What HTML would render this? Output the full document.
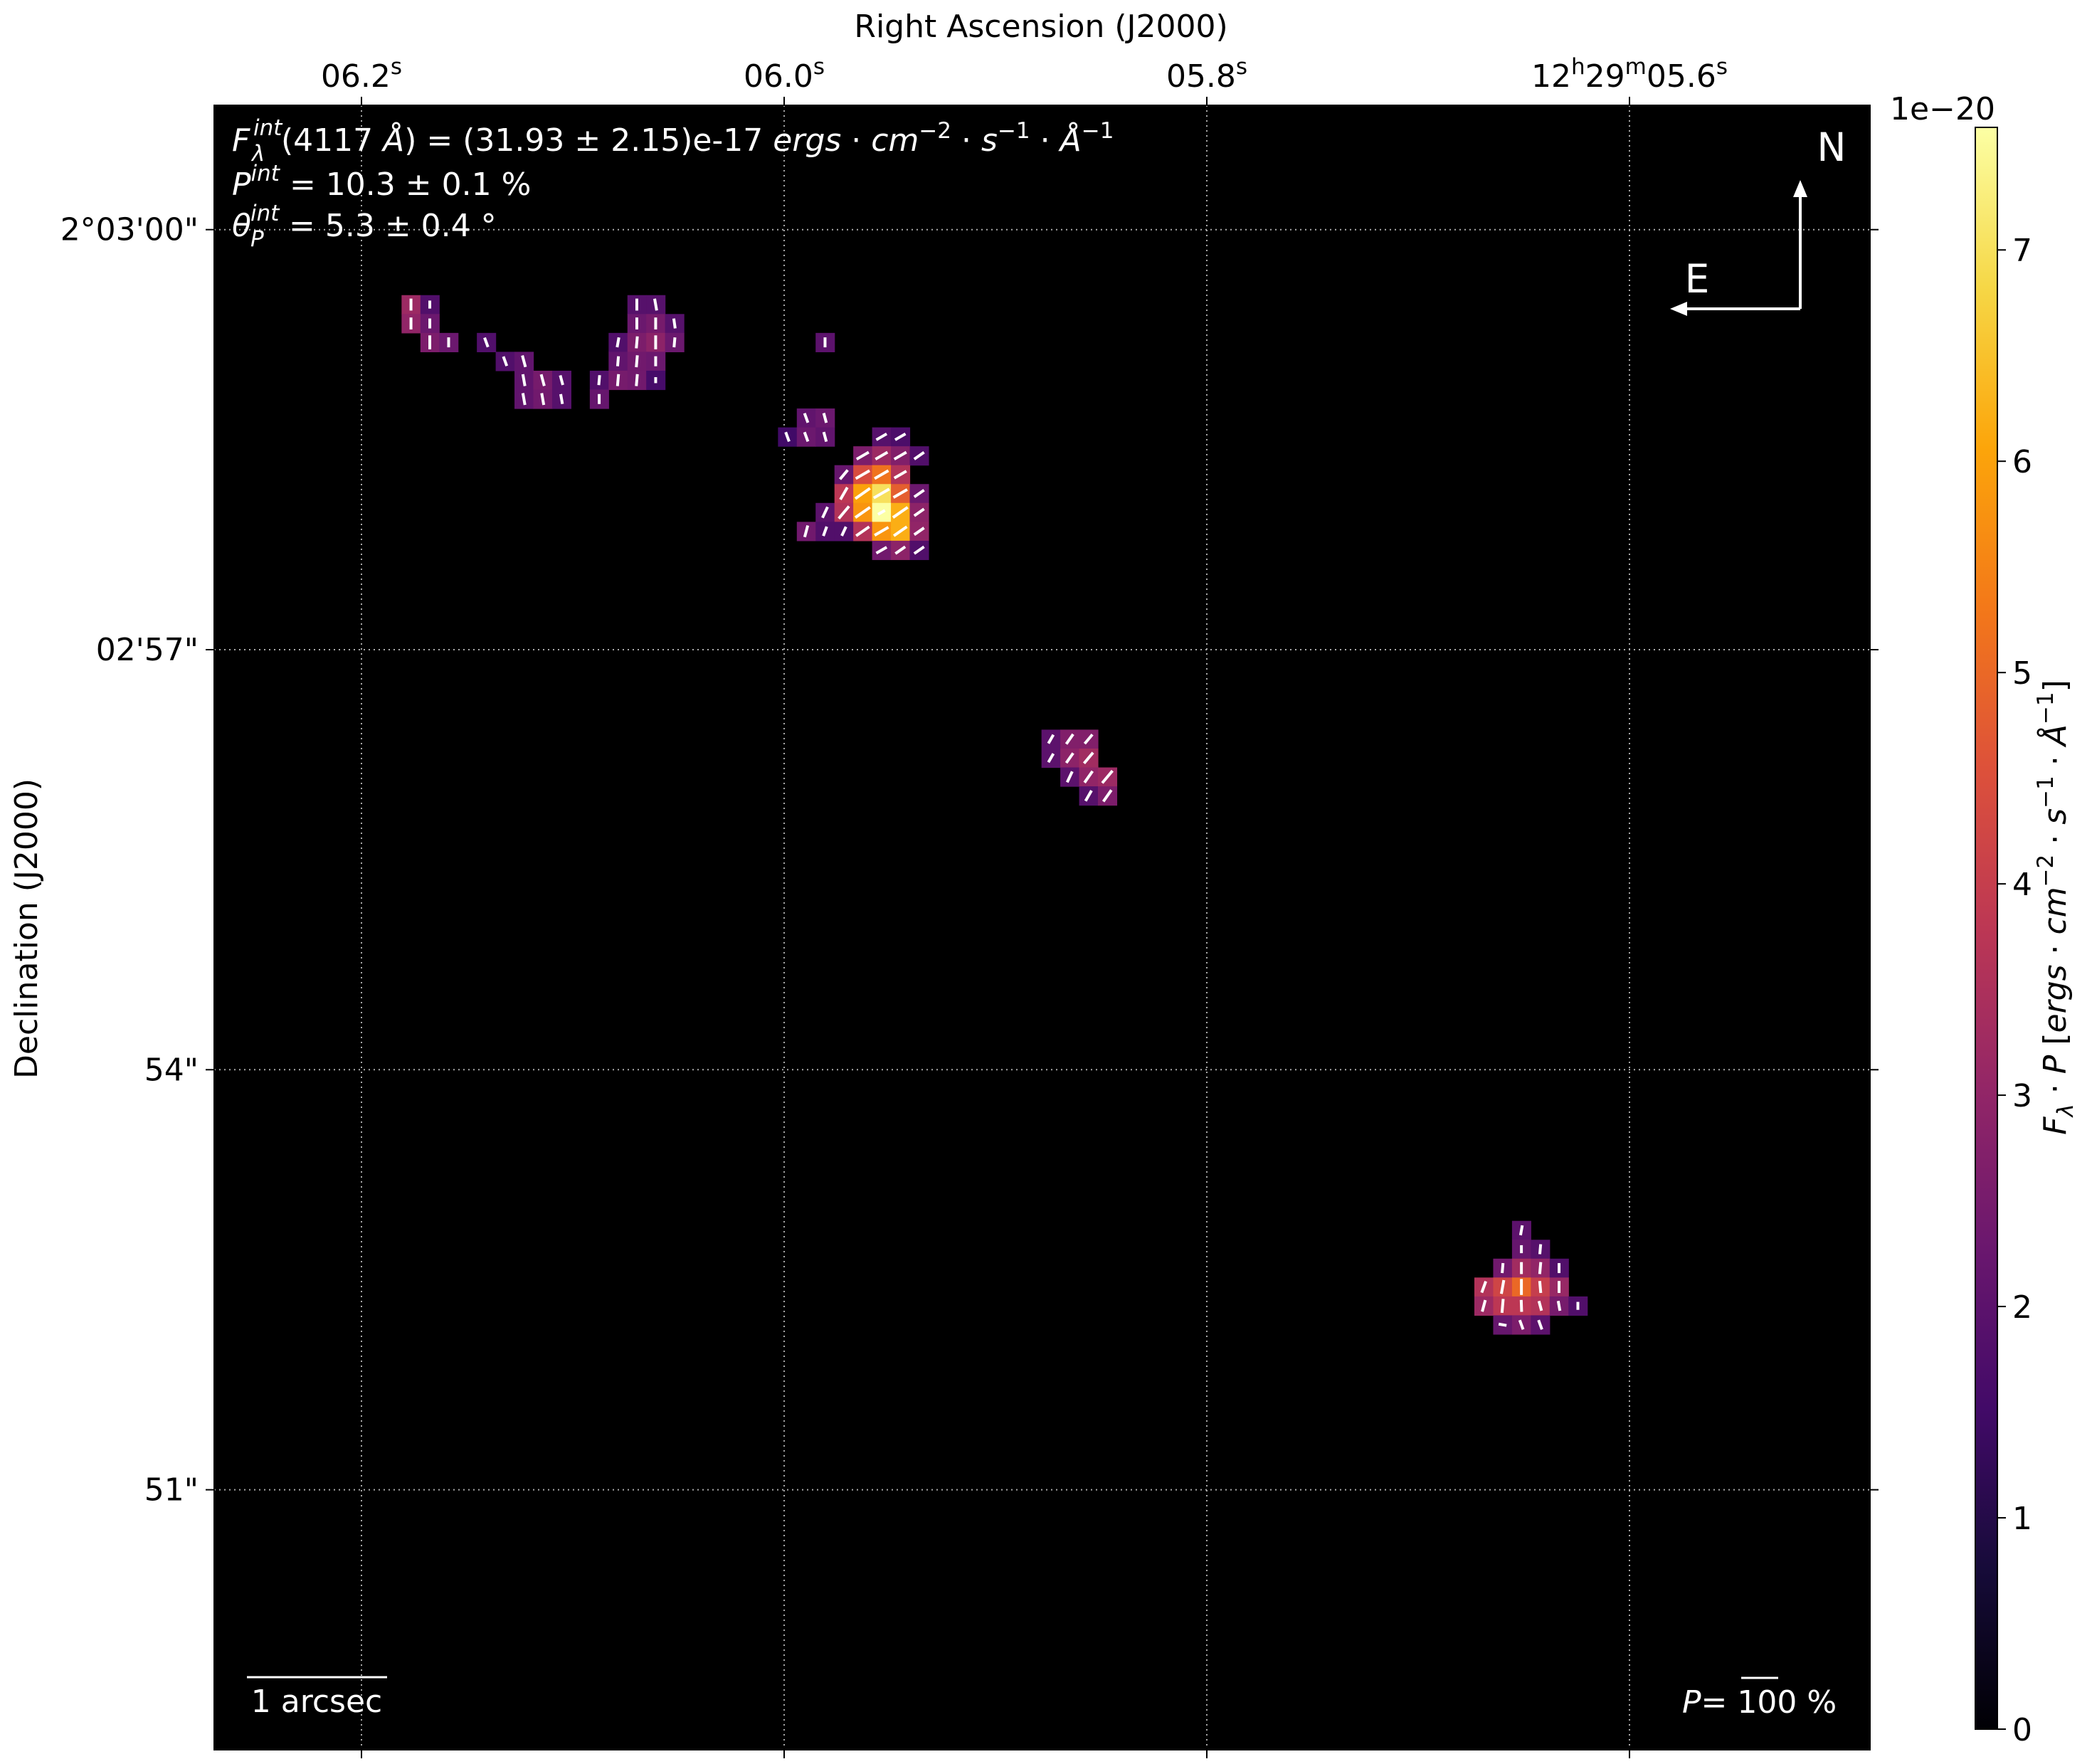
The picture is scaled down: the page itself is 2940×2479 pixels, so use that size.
<!DOCTYPE html>
<html><head><meta charset="utf-8"><style>
html,body{margin:0;padding:0;background:#fff;}
svg{display:block;font-family:"DejaVu Sans","Liberation Sans",sans-serif;}
</style></head><body>
<svg id="fig" width="2940" height="2479" viewBox="0 0 2940 2479" xmlns="http://www.w3.org/2000/svg">
<defs>
<linearGradient id="inferno" x1="0" y1="1" x2="0" y2="0">
<stop offset="0" stop-color="#000004"/><stop offset="0.1" stop-color="#160b39"/><stop offset="0.2" stop-color="#420a68"/><stop offset="0.3" stop-color="#6a176e"/><stop offset="0.4" stop-color="#932667"/><stop offset="0.5" stop-color="#bc3754"/><stop offset="0.6" stop-color="#dd513a"/><stop offset="0.7" stop-color="#f37819"/><stop offset="0.8" stop-color="#fca50a"/><stop offset="0.9" stop-color="#f6d746"/><stop offset="1" stop-color="#fcffa4"/>
</linearGradient>
<clipPath id="axclip"><rect x="301" y="148" width="2327" height="2311"/></clipPath>
</defs>
<rect x="301" y="148" width="2327" height="2311" fill="#000"/>
<g id="grid"></g>
<g id="cells" clip-path="url(#axclip)"></g>
<g id="vecs" clip-path="url(#axclip)"></g>
<rect x="301" y="148" width="2327" height="2311" fill="none" stroke="#000" stroke-width="2"/>
<g id="ticks"></g>

<text x="1463" y="52" font-size="44" text-anchor="middle">Right Ascension (J2000)</text>
<text transform="translate(52,1305) rotate(-90)" font-size="44" text-anchor="middle">Declination (J2000)</text>

<g fill="#fff" font-size="44">
<text x="326" y="212"><tspan font-style="italic">F</tspan></text>
<text x="356" y="190" font-size="31" font-style="italic">int</text>
<text x="354" y="226" font-size="31" font-style="italic">λ</text>
<text x="395" y="212">(4117 <tspan font-style="italic">Å</tspan>) = (31.93 ± 2.15)e-17 <tspan font-style="italic">ergs</tspan> · <tspan font-style="italic">cm</tspan><tspan font-size="31" dy="-18">−2</tspan><tspan dy="18"> · </tspan><tspan font-style="italic">s</tspan><tspan font-size="31" dy="-18">−1</tspan><tspan dy="18"> · </tspan><tspan font-style="italic">Å</tspan><tspan font-size="31" dy="-18">−1</tspan></text>
<text x="326" y="274"><tspan font-style="italic">P</tspan><tspan font-size="31" font-style="italic" dy="-20">int</tspan><tspan dy="20"> = 10.3 ± 0.1 %</tspan></text>
<text x="326" y="332"><tspan font-style="italic">θ</tspan></text>
<text x="352" y="310" font-size="31" font-style="italic">int</text>
<text x="352" y="346" font-size="31" font-style="italic">P</text>
<text x="406" y="332">= 5.3 ± 0.4 °</text>
</g>

<g fill="#fff" stroke="#fff">
<text x="2574" y="226" font-size="55" text-anchor="middle" stroke="none">N</text>
<text x="2385" y="411" font-size="55" text-anchor="middle" stroke="none">E</text>
<line x1="2530" y1="434" x2="2530" y2="270" stroke-width="4"/>
<polygon points="2530,253 2520,277 2540,277" stroke="none"/>
<line x1="2530" y1="434" x2="2365" y2="434" stroke-width="4"/>
<polygon points="2347,434 2371,424 2371,444" stroke="none"/>
</g>

<g>
<line x1="347" y1="2357" x2="544" y2="2357" stroke="#fff" stroke-width="3"/>
<text x="445" y="2406" fill="#fff" font-size="44" text-anchor="middle">1 arcsec</text>
</g>
<g>
<text x="2364" y="2407" fill="#fff" font-size="44"><tspan font-style="italic">P</tspan>= 100 %</text>
<line x1="2447" y1="2358" x2="2499" y2="2358" stroke="#fff" stroke-width="3"/>
</g>

<rect x="2776" y="179" width="31" height="2251" fill="url(#inferno)" stroke="#000" stroke-width="2"/>
<text x="2730" y="168" font-size="44" text-anchor="middle">1e−20</text>
<g id="cbticks"></g>
<text transform="translate(2903,1275) rotate(-90)" font-size="44" text-anchor="middle"><tspan font-style="italic">F</tspan><tspan font-size="31" font-style="italic" dy="10">λ</tspan><tspan dy="-10"> · </tspan><tspan font-style="italic">P</tspan> [<tspan font-style="italic">ergs</tspan> · <tspan font-style="italic">cm</tspan><tspan font-size="31" dy="-18">−2</tspan><tspan dy="18"> · </tspan><tspan font-style="italic">s</tspan><tspan font-size="31" dy="-18">−1</tspan><tspan dy="18"> · </tspan><tspan font-style="italic">Å</tspan><tspan font-size="31" dy="-18">−1</tspan><tspan dy="18">]</tspan></text>

<script>
// ---- data ----
var xTickLabels = ["06.2", "06.0", "05.8", "12h29m05.6"];
var xTickIdx = [0, 1, 2, 3];
var yTickLabels = ["2°03'00\"", "02'57\"", "54\"", "51\""];
var yTickIdx = [0, 1, 2, 3];
var cbTicks = [0, 1, 2, 3, 4, 5, 6, 7];
var cellCols = [-57,-56,-45,-44, -57,-56,-45,-44,-43, -56,-55,-53,-46,-45,-44,-43, -52,-51,-46,-45,-44, -51,-50,-49,-47,-46,-45,-44, -51,-50,-49,-47, -35,
 -36,-35, -37,-36,-35,-32,-31, -33,-32,-31,-30, -34,-33,-32,-31, -34,-33,-32,-31,-30, -35,-34,-33,-32,-31,-30, -36,-35,-34,-33,-32,-31,-30, -32,-31,-30,
 -23,-22,-21, -23,-22,-21, -22,-21,-20, -21,-20,
 2, 2,3, 1,2,3,4, 0,1,2,3,4, 0,1,2,3,4,5, 1,2,3];
var cellRows = [-49,-49,-49,-49, -48,-48,-48,-48,-48, -47,-47,-47,-47,-47,-47,-47, -46,-46,-46,-46,-46, -45,-45,-45,-45,-45,-45,-45, -44,-44,-44,-44, -47,
 -43,-43, -42,-42,-42,-42,-42, -41,-41,-41,-41, -40,-40,-40,-40, -39,-39,-39,-39,-39, -38,-38,-38,-38,-38,-38, -37,-37,-37,-37,-37,-37,-37, -36,-36,-36,
 -26,-26,-26, -25,-25,-25, -24,-24,-24, -23,-23,
 0, 1,1, 2,2,2,2, 3,3,3,3,3, 4,4,4,4,4,4, 5,5,5];
var cellValues = [3.2,1.8,1.9,1.9, 3.0,2.3,2.3,2.5,1.9, 2.6,2.3,1.8,1.8,2.6,2.9,2.3, 1.8,2.1,2.1,2.4,2.3, 2.1,2.5,1.9,1.8,2.5,2.4,1.6, 2.1,2.4,1.9,2.2, 2.0,
 2.1,2.3, 1.5,2.3,2.1,1.9,1.7, 2.6,3.2,2.7,1.8, 2.2,4.4,5.2,3.6, 3.8,6.0,7.0,4.8,2.3, 2.0,3.6,5.8,7.6,6.2,2.9, 2.4,1.8,1.8,3.6,5.8,6.2,3.0, 2.4,2.9,1.8,
 2.0,2.7,2.7, 2.0,2.9,3.3, 2.0,3.0,3.2, 1.9,2.6,
 2.0, 2.2,1.9, 2.4,3.3,3.0,1.8, 3.6,4.2,5.0,4.0,3.1, 3.2,3.8,3.8,3.6,2.5,1.8, 2.2,2.6,2.0];
var polAngles = [0,0,0,-10, 0,0,0,0,-8, 0,0,-20,10,5,0,5, -20,-15,5,5,0, -10,-15,-15,5,5,5,0, -10,-10,-10,0, 0,
 -20,-15, -20,-20,-15,60,60, 60,60,60,55, 40,60,60,60, 30,55,60,60,55, 25,40,55,60,55,55, 15,20,25,55,60,55,55, 60,55,55,
 30,35,40, 30,35,40, 25,35,40, 30,35,
 10, 0,5, 5,0,5,0, 20,10,0,-5,0, 15,5,-2,-15,-10,0, -80,-20,-20];
var polPercent = [12,8,12,12, 12,10,12,12,10, 14,10,10,10,12,14,10, 10,12,10,12,10, 12,12,10,10,12,12,6, 12,12,10,10, 10,
 10,10, 10,10,10,12,12, 14,14,14,12, 12,16,16,14, 14,18,18,16,12, 12,16,18,8,18,12, 12,10,10,16,16,16,12, 12,12,12,
 10,12,12, 10,12,14, 12,14,16, 12,14,
 10, 8,10, 10,12,12,10, 12,14,16,12,12, 12,14,12,10,10,8, 8,10,10];

// ---- axes ----
var NS = "http://www.w3.org/2000/svg";
var S = 26.45, SY = 26.55, X0 = 2072, Y0 = 1715.7;
function colX(c){ return X0 + c*S; }
function rowY(r){ return Y0 + r*SY; }
function xTick(i){ return 508 + i*594; }
function yTick(i){ return 322.7 + i*590.3; }
var VMAX = 7.58, CB_BOT = 2430, CB_TOP = 179;
function cbY(v){ return CB_BOT - (CB_BOT-CB_TOP)*v/VMAX; }
var stops = [[0,0,4],[22,11,57],[66,10,104],[106,23,110],[147,38,103],[188,55,84],[221,81,58],[243,120,25],[252,165,10],[246,215,70],[252,255,164]];
function inferno(v){
  var t = Math.max(0, Math.min(1, v/VMAX))*10, i = Math.min(9, Math.floor(t)), f = t - i;
  var a = stops[i], b = stops[i+1];
  return "rgb(" + [0,1,2].map(function(k){ return Math.round(a[k]+(b[k]-a[k])*f); }).join(",") + ")";
}
function mk(tag, attrs, parent){
  var e = document.createElementNS(NS, tag);
  for (var k in attrs) e.setAttribute(k, attrs[k]);
  parent.appendChild(e); return e;
}
function addSpan(parent, txt, sup){
  var ts = document.createElementNS(NS, "tspan");
  if (sup) { ts.setAttribute("font-size", "31"); ts.setAttribute("dy", "-18"); }
  else if (parent.childNodes.length) { ts.setAttribute("dy", "18"); }
  ts.textContent = txt;
  parent.appendChild(ts);
}
var grid = document.getElementById("grid"), ticks = document.getElementById("ticks");
xTickIdx.forEach(function(i){
  var x = xTick(i);
  var gl = mk("line", {x1:x, y1:148, x2:x, y2:2459, stroke:"#aaa", "stroke-width":2, "stroke-dasharray":"2,5"}, grid);
  
  
  var t1 = mk("line", {x1:x, y1:148, x2:x, y2:136, stroke:"#000", "stroke-width":2}, ticks);
  
  
  var t2 = mk("line", {x1:x, y1:2459, x2:x, y2:2471, stroke:"#000", "stroke-width":2}, ticks);
  
  
  var lbl = mk("text", {x:x, y:122, "font-size":44, "text-anchor":"middle"}, ticks);
  
  
  var s = xTickLabels[i];
  var m = s.match(/^(\d+)h(\d+)m(.*)$/);
  if (m) {
    addSpan(lbl, m[1], false); addSpan(lbl, "h", true);
    addSpan(lbl, m[2], false); addSpan(lbl, "m", true);
    addSpan(lbl, m[3], false); addSpan(lbl, "s", true);
  } else {
    addSpan(lbl, s, false); addSpan(lbl, "s", true);
  }
});
yTickIdx.forEach(function(i){
  var y = yTick(i);
  var gl = mk("line", {x1:301, y1:y, x2:2628, y2:y, stroke:"#aaa", "stroke-width":2, "stroke-dasharray":"2,5"}, grid);
  
  
  var t1 = mk("line", {x1:289, y1:y, x2:301, y2:y, stroke:"#000", "stroke-width":2}, ticks);
  
  
  var t2 = mk("line", {x1:2628, y1:y, x2:2640, y2:y, stroke:"#000", "stroke-width":2}, ticks);
  
  
  var lbl = mk("text", {x:279, y:y+15, "font-size":44, "text-anchor":"end"}, ticks);
  
  
  lbl.textContent = yTickLabels[i];
});
var cells = document.getElementById("cells"), vecs = document.getElementById("vecs");
for (var n = 0; n < cellValues.length; n++) {
  var x = colX(cellCols[n]), y = rowY(cellRows[n]);
  var r = mk("rect", {x:x, y:y, width:S+0.6, height:SY+0.6, fill:inferno(cellValues[n])}, cells);
  
  
  var cx = x + S/2, cy = y + SY/2, L = polPercent[n]*1.4, a = polAngles[n]*Math.PI/180;
  var dx = Math.sin(a)*L/2, dy = Math.cos(a)*L/2;
  var v = mk("line", {x1:cx-dx, y1:cy+dy, x2:cx+dx, y2:cy-dy, stroke:"#fff", "stroke-width":4}, vecs);
  
  
}
var cbt = document.getElementById("cbticks");
cbTicks.forEach(function(v){
  var y = cbY(v);
  var t = mk("line", {x1:2807, y1:y, x2:2819, y2:y, stroke:"#000", "stroke-width":2}, cbt);
  
  
  var l = mk("text", {x:2828, y:y+16, "font-size":44}, cbt);
  
  
  l.textContent = v;
});
</script>
</svg>
</body></html>
